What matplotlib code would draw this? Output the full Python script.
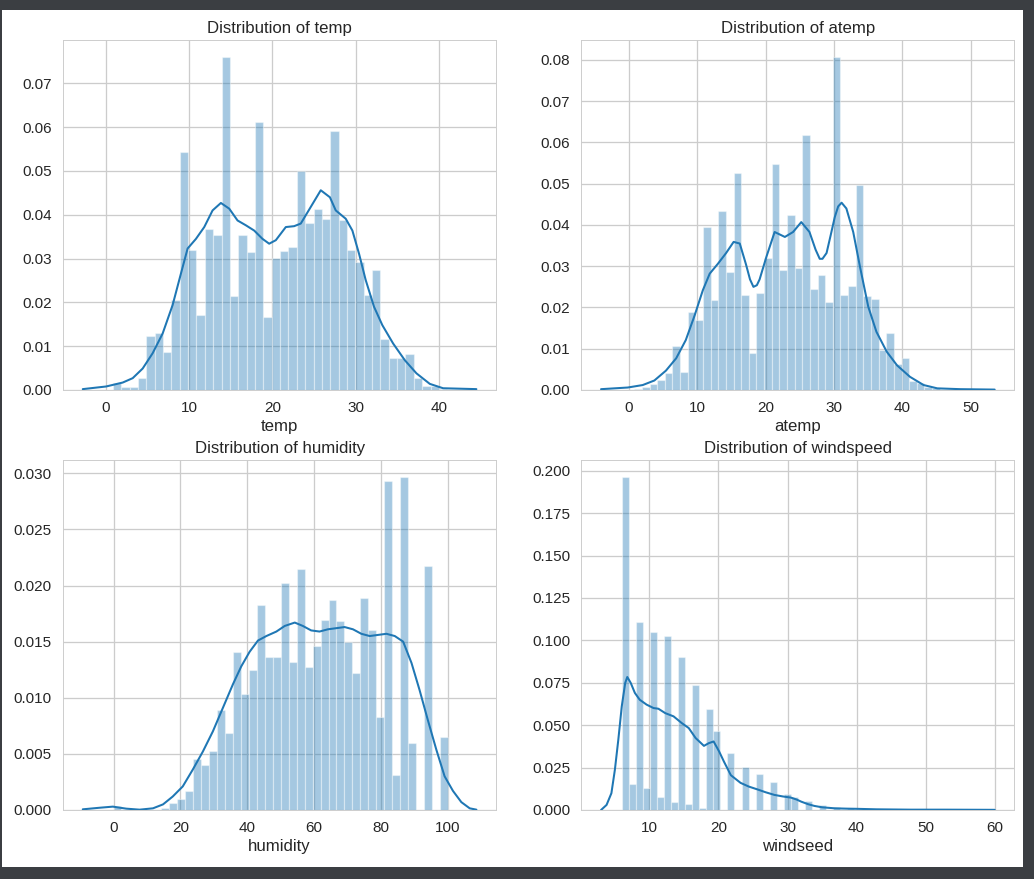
import numpy as np
import matplotlib
matplotlib.use("Agg")
import matplotlib.pyplot as plt
import seaborn as sns
from matplotlib.patches import Rectangle

# histogram data (density per bin)
temp_range = (0.82, 41.0)
temp_heights = [0.0015, 0.0006, 0.0006, 0.0027, 0.0124, 0.0131, 0.0087, 0.0205, 0.0543, 0.0320,
                0.0172, 0.0368, 0.0353, 0.0761, 0.0214, 0.0353, 0.0314, 0.0611, 0.0167, 0.0301,
                0.0317, 0.0327, 0.0501, 0.0381, 0.0414, 0.0391, 0.0592, 0.0388, 0.0320, 0.0292,
                0.0216, 0.0275, 0.0116, 0.0074, 0.0072, 0.0082, 0.0027, 0.0008, 0.0008, 0.0003]
temp_kde_x = [-2.8, 0.0, 2.0, 3.2, 4.4, 5.6, 6.8, 8.0, 9.0, 9.8, 10.8, 11.8, 12.8, 13.8, 14.8,
              15.8, 16.8, 17.8, 18.8, 19.6, 20.4, 21.6, 22.6, 23.4, 24.6, 25.8, 26.9, 27.6,
              28.8, 29.6, 30.4, 31.2, 32.2, 33.2, 34.5, 35.9, 37.3, 38.9, 40.5, 44.5]
temp_kde_y = [0.0002, 0.0008, 0.0017, 0.0027, 0.0049, 0.0084, 0.0129, 0.0194, 0.0266, 0.0323,
              0.0345, 0.0372, 0.0410, 0.0427, 0.0414, 0.0387, 0.0376, 0.0364, 0.0345, 0.0334,
              0.0342, 0.0372, 0.0374, 0.0380, 0.0418, 0.0456, 0.0440, 0.0410, 0.0391, 0.0364,
              0.0311, 0.0251, 0.0190, 0.0148, 0.0106, 0.0068, 0.0038, 0.0014, 0.0004, 0.0002]

atemp_range = (0.76, 45.455)
atemp_heights = [0.0003, 0.0008, 0.0015, 0.0024, 0.0042, 0.0106, 0.0044, 0.0190, 0.0169, 0.0395,
                 0.0219, 0.0433, 0.0286, 0.0526, 0.0230, 0.0090, 0.0234, 0.0319, 0.0547, 0.0290,
                 0.0423, 0.0296, 0.0619, 0.0245, 0.0278, 0.0214, 0.0808, 0.0230, 0.0252, 0.0498,
                 0.0227, 0.0221, 0.0098, 0.0139, 0.0063, 0.0077, 0.0022, 0.0016, 0.0008, 0.0004]
atemp_kde_x = [-4.1, -0.2, 2.0, 3.7, 5.4, 6.9, 8.3, 9.6, 10.8, 11.8, 13.0, 14.2, 15.3, 16.2,
               17.1, 17.7, 18.2, 18.7, 19.1, 20.1, 21.3, 22.8, 24.0, 25.2, 26.4, 27.3, 27.9,
               28.3, 28.9, 29.5, 30.1, 30.6, 31.1, 31.8, 32.8, 33.8, 35.0, 36.2, 37.7, 39.2,
               41.1, 43.1, 45.1, 48.5, 53.5]
atemp_kde_y = [0.0002, 0.0006, 0.0012, 0.0023, 0.0047, 0.0077, 0.0121, 0.0181, 0.0242, 0.0282,
               0.0306, 0.0332, 0.0359, 0.0355, 0.0305, 0.0268, 0.0250, 0.0254, 0.0268, 0.0323,
               0.0383, 0.0371, 0.0383, 0.0407, 0.0383, 0.0340, 0.0318, 0.0318, 0.0332, 0.0375,
               0.0419, 0.0445, 0.0454, 0.0440, 0.0383, 0.0298, 0.0202, 0.0141, 0.0093, 0.0060,
               0.0032, 0.0012, 0.0004, 0.0002, 0.0001]

humidity_range = (0.0, 100.0)
humidity_heights = [0.0004, 0.0, 0.0, 0.0, 0.0, 0.0, 0.0002, 0.00065, 0.00095, 0.0017,
                    0.0045, 0.0040, 0.0053, 0.0089, 0.0069, 0.0141, 0.0103, 0.0125, 0.0183, 0.0136,
                    0.0136, 0.0202, 0.0132, 0.0215, 0.0127, 0.0146, 0.0169, 0.0187, 0.0168, 0.0150,
                    0.0122, 0.0189, 0.0160, 0.0083, 0.0293, 0.0031, 0.0297, 0.0060, 0.0, 0.0217,
                    0.0, 0.0065]
humidity_kde_x = [-9.2, -4.2, -0.2, 3.8, 7.8, 11.8, 14.8, 17.7, 20.7, 23.7, 26.7, 29.7, 32.7,
                  35.7, 38.2, 40.7, 43.2, 45.7, 48.7, 51.2, 54.2, 56.6, 59.1, 61.6, 64.1, 66.6,
                  69.1, 71.6, 74.1, 76.6, 79.1, 81.6, 84.1, 86.6, 89.1, 91.5, 94.0, 96.5, 99.0,
                  101.5, 104.0, 106.5, 108.5]
humidity_kde_y = [0.00006, 0.0002, 0.0003, 0.00012, 0.00003, 0.00015, 0.0005, 0.0012, 0.0021,
                  0.0036, 0.0052, 0.0070, 0.0091, 0.0112, 0.0128, 0.0141, 0.0151, 0.0155, 0.0159,
                  0.0164, 0.0167, 0.0164, 0.0160, 0.0159, 0.0161, 0.0162, 0.0163, 0.0161, 0.0157,
                  0.0155, 0.0156, 0.0157, 0.0155, 0.0150, 0.0131, 0.0107, 0.0080, 0.0054, 0.0030,
                  0.0017, 0.0007, 0.00015, 0.00003]

windspeed_range = (6.0032, 56.9969)
windspeed_heights = [0.1965, 0.0152, 0.1109, 0.0132, 0.1050, 0.0079, 0.1025, 0.0049, 0.0900, 0.0035,
                     0.0739, 0.0010, 0.0597, 0.0463, 0.0, 0.0337, 0.0, 0.0252, 0.0, 0.0213,
                     0.0, 0.0164, 0.0, 0.0095, 0.0075, 0.0, 0.0053, 0.0, 0.0030, 0.0,
                     0.0015, 0.0, 0.0010, 0.0, 0.0006, 0.0, 0.0004, 0.0003, 0.0, 0.0002,
                     0.0, 0.0001, 0.0, 0.0001, 0.0, 0.0001, 0.0, 0.0, 0.0001, 0.0001]
windspeed_kde_x = [3.0, 3.8, 4.5, 5.0, 5.5, 6.0, 6.5, 6.8, 7.3, 7.9, 8.6, 9.6, 10.6, 11.3, 12.3,
                   13.5, 14.7, 15.7, 16.7, 17.9, 18.6, 19.3, 20.1, 20.8, 21.8, 23.2, 24.4, 25.6,
                   26.8, 28.1, 29.3, 30.5, 31.3, 32.0, 33.0, 33.9, 35.0, 36.8, 38.5, 40.0, 42.9,
                   47.8, 52.6, 60.0]
windspeed_kde_y = [0.0, 0.003, 0.0099, 0.0236, 0.0414, 0.0611, 0.0749, 0.0784, 0.0749, 0.0690,
                   0.0650, 0.0621, 0.0601, 0.0597, 0.0571, 0.0552, 0.0512, 0.0483, 0.0424, 0.0378,
                   0.0394, 0.0404, 0.0345, 0.0285, 0.0205, 0.0160, 0.0138, 0.0122, 0.0105, 0.0089,
                   0.0080, 0.0073, 0.0062, 0.0049, 0.0034, 0.0024, 0.0016, 0.0010, 0.0008, 0.0007,
                   0.0004, 0.0002, 0.0002, 0.0001]

panels = [
    ("temp", "temp", temp_range, temp_heights, temp_kde_x, temp_kde_y),
    ("atemp", "atemp", atemp_range, atemp_heights, atemp_kde_x, atemp_kde_y),
    ("humidity", "humidity", humidity_range, humidity_heights, humidity_kde_x, humidity_kde_y),
    ("windspeed", "windseed", windspeed_range, windspeed_heights, windspeed_kde_x, windspeed_kde_y),
]

sns.set_style("whitegrid")
plt.rcParams['font.family'] = ['Liberation Sans', 'DejaVu Sans']

dpi = 86
fig, axes = plt.subplots(2, 2, figsize=(1034 / dpi, 879 / dpi), dpi=dpi)
fig.patch.set_facecolor('#3b3e42')
# white notebook output area inside the dark frame
fig.patches.append(Rectangle((2 / 1034, 12 / 879), 1021 / 1034, 857 / 879,
                             transform=fig.transFigure, facecolor='white',
                             edgecolor='none', zorder=-10))
fig.subplots_adjust(left=0.061, right=0.981, top=0.9545, bottom=0.0785,
                    wspace=0.197, hspace=0.2)

for ax, (name, xlab, rng, heights, kx, ky) in zip(axes.flat, panels):
    edges = np.linspace(rng[0], rng[1], len(heights) + 1)
    ax.bar(edges[:-1], heights, width=np.diff(edges), align='edge',
           color='#1f77b4', alpha=0.4, edgecolor='white', linewidth=1)
    ax.plot(kx, ky, color='#1f77b4', linewidth=1.7, solid_joinstyle='round')
    ax.set_title("Distribution of " + name, fontsize=14, color='.15')
    ax.set_xlabel(xlab, fontsize=14, color='.15', labelpad=3)
    ax.tick_params(labelsize=12.8, colors='.15', pad=6)
    ax.grid(color='.8', linewidth=1.1)

fig.savefig("out.png", dpi=dpi, facecolor=fig.get_facecolor())
